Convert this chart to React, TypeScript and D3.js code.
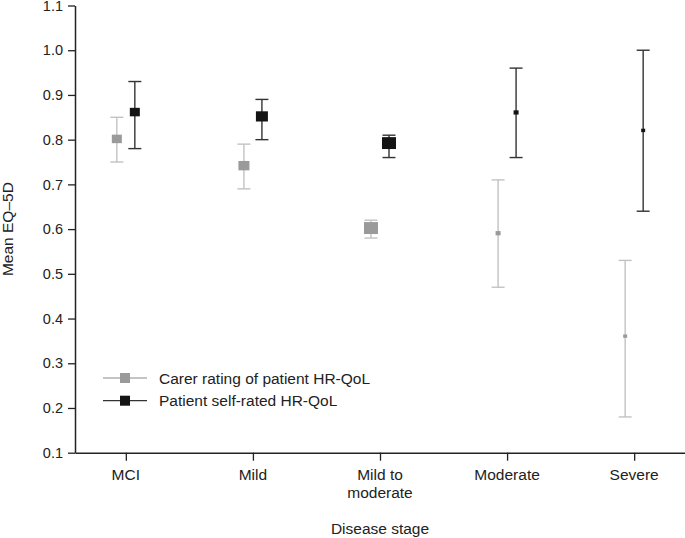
//@ts-nocheck
import * as d3 from "d3";
import { useRef, useEffect } from "react";

const stages = ["MCI", "Mild", "Mild to\nmoderate", "Moderate", "Severe"];
const yTicks = [0.1, 0.2, 0.3, 0.4, 0.5, 0.6, 0.7, 0.8, 0.9, 1.0, 1.1];

const carerMean = [0.8, 0.74, 0.6, 0.59, 0.36];
const carerLow = [0.75, 0.69, 0.58, 0.47, 0.18];
const carerHigh = [0.85, 0.79, 0.62, 0.71, 0.53];
const carerSize = [10, 11, 14, 5, 4];

const patientMean = [0.86, 0.85, 0.79, 0.86, 0.82];
const patientLow = [0.78, 0.8, 0.76, 0.76, 0.64];
const patientHigh = [0.93, 0.89, 0.81, 0.96, 1.0];
const patientSize = [10, 12, 14, 5, 4];

const series = [
  { name: "Carer rating of patient HR-QoL", mean: carerMean, low: carerLow, high: carerHigh, size: carerSize, fill: "#9a9a9a", bar: "#c2c2c2", legendLine: "#b0b0b0", dx: -9 },
  { name: "Patient self-rated HR-QoL", mean: patientMean, low: patientLow, high: patientHigh, size: patientSize, fill: "#141414", bar: "#333333", legendLine: "#333333", dx: 9 },
];

const width = 685;
const height = 538;
const marginLeft = 75;
const marginTop = 5.5;
const marginBottom = 85.3;
const font = "'Liberation Sans', Arial, sans-serif";
const fs = 15.5;

export default function App() {
  const gx = useRef();
  const gy = useRef();

  const x = d3.scalePoint(stages, [marginLeft, width]).padding(0.4);
  const y = d3.scaleLinear([0.1, 1.1], [height - marginBottom, marginTop]);

  useEffect(() => {
    const ax = d3.select(gx.current);
    ax.call(d3.axisBottom(x).tickSize(8).tickSizeOuter(0).tickFormat(() => ""));
    ax.select(".domain").attr("stroke", "#222").attr("stroke-width", 1.5);
    ax.selectAll(".tick line").attr("stroke", "#222").attr("stroke-width", 1.3);
    const ay = d3.select(gy.current);
    ay.call(d3.axisLeft(y).tickValues(yTicks).tickSize(7).tickSizeOuter(0).tickFormat(d3.format(".1f")));
    ay.select(".domain").attr("stroke", "#222").attr("stroke-width", 1.5);
    ay.selectAll(".tick line").attr("stroke", "#222").attr("stroke-width", 1.3);
    ay.selectAll(".tick text")
      .attr("font-family", font)
      .attr("font-size", 14.5)
      .attr("fill", "#222")
      .attr("x", -12);
  }, []);

  const cap = 6.5;

  return (
    <svg width={width} height={height} style={{ position: "absolute", left: 0, top: 0, background: "#fff" }}>
      <g ref={gy} transform={`translate(${marginLeft},0)`} />
      <g ref={gx} transform={`translate(0,${height - marginBottom})`} />

      {stages.map((s) => (
        <text
          key={s}
          x={x(s)}
          y={height - marginBottom + 27}
          textAnchor="middle"
          fontFamily={font}
          fontSize={fs}
          fill="#222"
        >
          {s.split("\n").map((line, i) => (
            <tspan key={i} x={x(s)} dy={i === 0 ? 0 : 18}>
              {line}
            </tspan>
          ))}
        </text>
      ))}

      <text x={(marginLeft + width) / 2} y={534} textAnchor="middle" fontFamily={font} fontSize={fs} fill="#222">
        Disease stage
      </text>
      <text
        transform={`translate(13,${(marginTop + height - marginBottom) / 2}) rotate(-90)`}
        textAnchor="middle"
        fontFamily={font}
        fontSize={fs}
        fill="#222"
      >
        Mean EQ–5D
      </text>

      {series.map((se) => (
        <g key={se.name}>
          {stages.map((s, i) => {
            const cx = x(s) + se.dx;
            const sz = se.size[i];
            return (
              <g key={s}>
                <line x1={cx} x2={cx} y1={y(se.low[i])} y2={y(se.high[i])} stroke={se.bar} strokeWidth={1.4} />
                <line x1={cx - cap} x2={cx + cap} y1={y(se.low[i])} y2={y(se.low[i])} stroke={se.bar} strokeWidth={1.4} />
                <line x1={cx - cap} x2={cx + cap} y1={y(se.high[i])} y2={y(se.high[i])} stroke={se.bar} strokeWidth={1.4} />
                <rect x={cx - sz / 2} y={y(se.mean[i]) - sz / 2} width={sz} height={sz * 0.85} fill={se.fill} />
              </g>
            );
          })}
        </g>
      ))}

      {series.map((se, i) => {
        const ly = 378 + i * 22.7;
        return (
          <g key={se.name}>
            <line x1={103} x2={147} y1={ly} y2={ly} stroke={se.legendLine} strokeWidth={1.3} />
            <rect x={120} y={ly - 5} width={10} height={10} fill={se.fill} />
            <text x={159} y={ly + 5.5} fontFamily={font} fontSize={fs} fill="#222">
              {se.name}
            </text>
          </g>
        );
      })}
    </svg>
  );
}
